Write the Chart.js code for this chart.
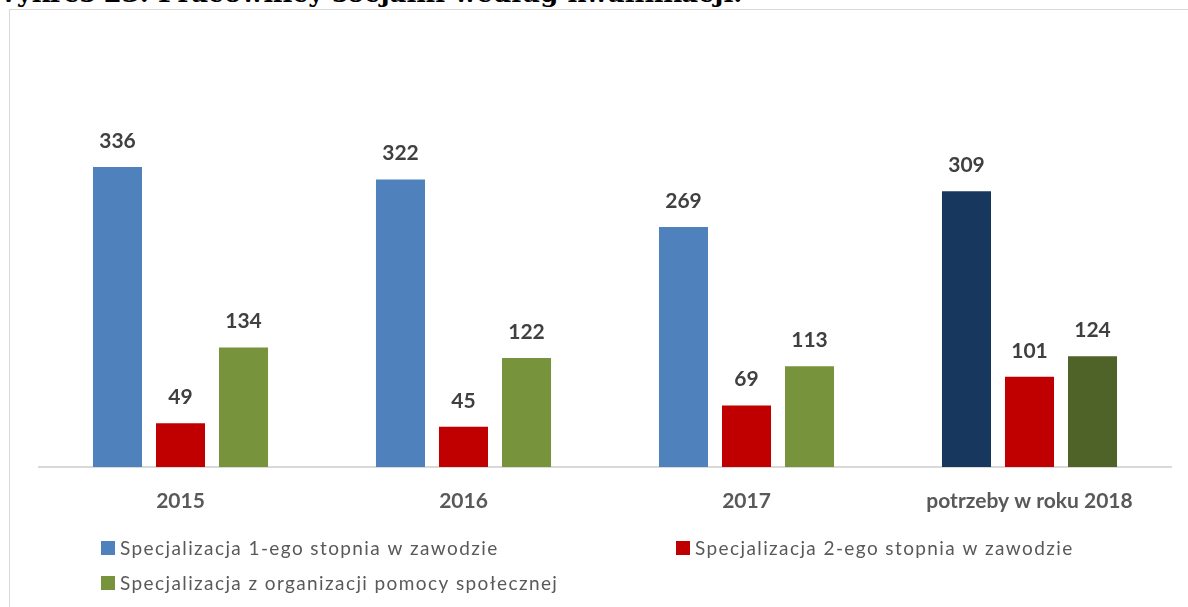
<!DOCTYPE html>
<html>
<head>
<meta charset="utf-8">
<script src="https://cdn.jsdelivr.net/npm/chart.js@4"></script>
<style>
  html, body { margin: 0; padding: 0; background: #fff; }
  #wrap { position: relative; width: 1188px; height: 607px; overflow: hidden; }
  #frame { position: absolute; left: 9px; top: 9px; width: 1190px; height: 610px; border: 1px solid #D9D9D9; box-sizing: border-box; }
  #title { position: absolute; left: -12px; top: -22px; font: bold 26px "DejaVu Serif", "Liberation Serif", serif; color: #000; white-space: nowrap; }
  canvas { position: absolute; left: 0; top: 0; }
</style>
</head>
<body>
<div id="wrap">
  <div id="frame"></div>
  <div id="title">Wykres 23. Pracownicy socjalni według kwalifikacji.</div>
  <canvas id="c" width="1188" height="607"></canvas>
</div>
<script>
const categories = ["2015", "2016", "2017", "potrzeby w roku 2018"];
const seriesNames = [
  "Specjalizacja 1-ego stopnia w zawodzie",
  "Specjalizacja 2-ego stopnia w zawodzie",
  "Specjalizacja z organizacji pomocy społecznej"
];
const spec1 = [336, 322, 269, 309];
const spec2 = [49, 45, 69, 101];
const specOrg = [134, 122, 113, 124];

const baseColors = ["#4F81BD", "#C00000", "#77933C"];
const lastColors = ["#17375E", "#C00000", "#4F6228"];

function colorsFor(i) {
  return categories.map((_, k) => k === categories.length - 1 ? lastColors[i] : baseColors[i]);
}

const valueLabels = {
  id: 'valueLabels',
  afterDatasetsDraw(chart) {
    const ctx = chart.ctx;
    ctx.save();
    ctx.font = 'bold 21px Lato';
    ctx.fillStyle = '#404040';
    ctx.textAlign = 'center';
    ctx.textBaseline = 'middle';
    chart.data.datasets.forEach((ds, i) => {
      const meta = chart.getDatasetMeta(i);
      meta.data.forEach((bar, k) => {
        ctx.fillText(String(ds.data[k]), bar.x, bar.y - 26);
      });
    });
    ctx.restore();
  }
};

const customLegend = {
  id: 'customLegend',
  afterDraw(chart) {
    const ctx = chart.ctx;
    const pos = [[101, 548], [676, 548], [101, 583]];
    ctx.save();
    ctx.font = '19px Lato';
    if ('letterSpacing' in ctx) ctx.letterSpacing = '1.4px';
    ctx.textBaseline = 'middle';
    ctx.textAlign = 'left';
    chart.data.datasets.forEach((ds, i) => {
      const [x, y] = pos[i];
      ctx.fillStyle = baseColors[i];
      ctx.fillRect(x, y - 7, 14, 14);
      ctx.fillStyle = '#595959';
      ctx.fillText(ds.label, x + 19, y + 1);
    });
    ctx.restore();
  }
};

new Chart(document.getElementById('c'), {
  type: 'bar',
  data: {
    labels: categories,
    datasets: [
      { label: seriesNames[0], data: spec1, backgroundColor: colorsFor(0) },
      { label: seriesNames[1], data: spec2, backgroundColor: colorsFor(1) },
      { label: seriesNames[2], data: specOrg, backgroundColor: colorsFor(2) }
    ]
  },
  options: {
    responsive: false,
    animation: false,
    events: [],
    layout: { padding: { top: 110, left: 39, right: 17, bottom: 0 } },
    datasets: { bar: { categoryPercentage: 0.668, barPercentage: 0.778 } },
    plugins: { legend: { display: false }, tooltip: { enabled: false }, title: { display: false } },
    scales: {
      y: { display: false, min: 0, max: 400 },
      x: {
        afterFit(scale) { scale.height = 140; },
        grid: { display: false, drawTicks: false },
        border: { display: true, color: '#D9D9D9', width: 2 },
        ticks: { color: '#595959', font: { family: 'Lato', size: 21, weight: 'bold' }, padding: 22, maxRotation: 0 }
      }
    }
  },
  plugins: [valueLabels, customLegend]
});
</script>
</body>
</html>
